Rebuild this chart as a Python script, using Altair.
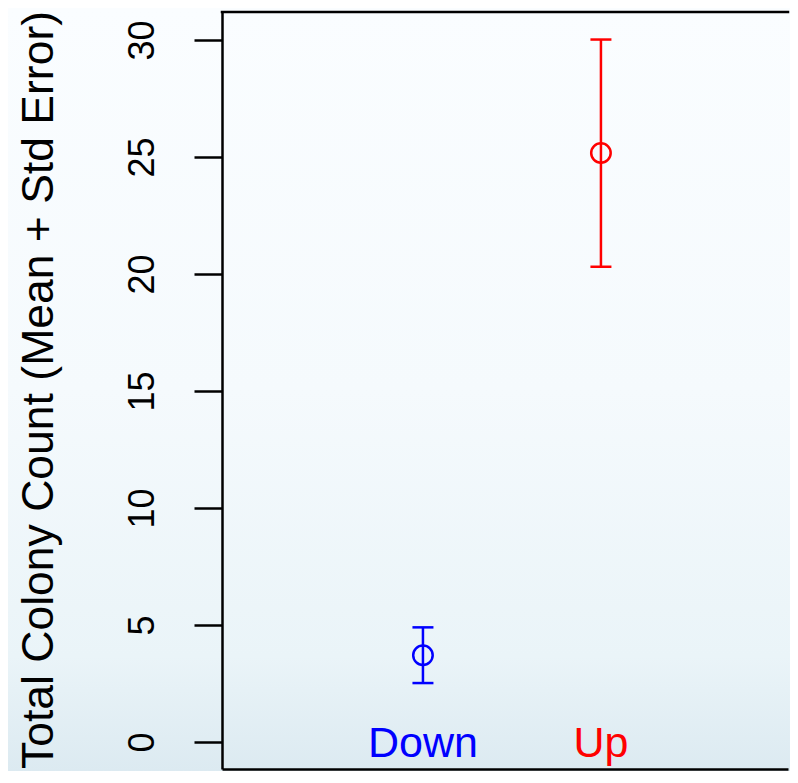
import altair as alt
import pandas as pd

groups = ["Down", "Up"]
xpos = [1, 2]
means = [3.71, 25.17]
lower = [2.52, 20.31]
upper = [4.90, 30.02]
colors = ["#0000ff", "#ff0000"]
yticks = [0, 5, 10, 15, 20, 25, 30]
label_y = [0, 0]
ytitle = "Total Colony Count (Mean + Std Error)"

df = pd.DataFrame({"group": groups, "x": xpos, "mean": means,
                   "lower": lower, "upper": upper, "label_y": label_y})

W, H = 566, 757
FONT = "Liberation Sans"

xs = alt.Scale(domain=[-0.129, 3.051], nice=False, zero=False)
ys = alt.Scale(domain=[-1.153, 31.197], nice=False, zero=False)
col = alt.Color("group:N", scale=alt.Scale(domain=groups, range=colors), legend=None)

xaxis = alt.Axis(labels=False, ticks=False, title=None, grid=False,
                 domainWidth=2.5, domainColor="black", zindex=1)
yaxis = alt.Axis(values=yticks, title=ytitle, grid=False, zindex=1,
                 domainWidth=2.5, domainColor="black",
                 tickSize=28, tickWidth=2.5, tickColor="black",
                 labelFontSize=36, labelAngle=270, labelAlign="center",
                 labelBaseline="alphabetic", labelPadding=41, labelColor="black",
                 labelFont=FONT, labelOverlap=False, labelFlush=False,
                 titleFont=FONT, titleFontSize=44.5, titleFontWeight="normal",
                 titleColor="black", titleAngle=270, titleAlign="center",
                 titleBaseline="alphabetic", titleX=-170, titleY=H / 2 - 1)

X = alt.X("x:Q", scale=xs, axis=xaxis)

bg = alt.Chart(pd.DataFrame({"d": [0]})).mark_rect(
    fill=alt.Gradient(gradient="linear", x1=0, y1=0, x2=0, y2=1,
                      stops=[alt.GradientStop(offset=0, color="#fafdff"),
                             alt.GradientStop(offset=0.5, color="#f5fafd"),
                             alt.GradientStop(offset=0.85, color="#eaf4f8"),
                             alt.GradientStop(offset=1, color="#dceaf1")])
).encode(x=alt.value(-214), x2=alt.value(W + 2), y=alt.value(-4), y2=alt.value(H + 2))

bars = alt.Chart(df).mark_rule(strokeWidth=2.5).encode(
    x=X, y=alt.Y("lower:Q", scale=ys, axis=yaxis, title=ytitle), y2="upper:Q", color=col)

caps = alt.Chart(df).transform_fold(["lower", "upper"], as_=["k", "v"]).mark_tick(
    orient="horizontal", size=21, thickness=2.5, opacity=1).encode(
    x=X, y=alt.Y("v:Q", scale=ys, axis=yaxis, title=ytitle), color=col)

pts = alt.Chart(df).mark_point(shape="circle", filled=False, size=380,
                               strokeWidth=2.5, opacity=1).encode(
    x=X, y=alt.Y("mean:Q", scale=ys, axis=yaxis, title=ytitle), color=col)

txt = alt.Chart(df).mark_text(font=FONT, fontSize=43, align="center",
                              baseline="alphabetic", dy=14.5).encode(
    x=X, y=alt.Y("label_y:Q", scale=ys, axis=yaxis, title=ytitle),
    text="group:N", color=col)

top = alt.Chart(pd.DataFrame({"d": [0]})).mark_rule(
    color="black", strokeWidth=2.5, strokeCap="square").encode(
    x=alt.value(0), x2=alt.value(W), y=alt.value(0))

chart = alt.layer(bg, bars, caps, pts, txt, top).properties(
    width=W, height=H,
    autosize=alt.AutoSizeParams(type="none"),
    padding={"left": 214, "top": 4, "right": 2, "bottom": 2},
).configure_view(stroke=None).configure(background="white")

chart.save("out.html", embed_options={"renderer": "svg", "actions": False})
